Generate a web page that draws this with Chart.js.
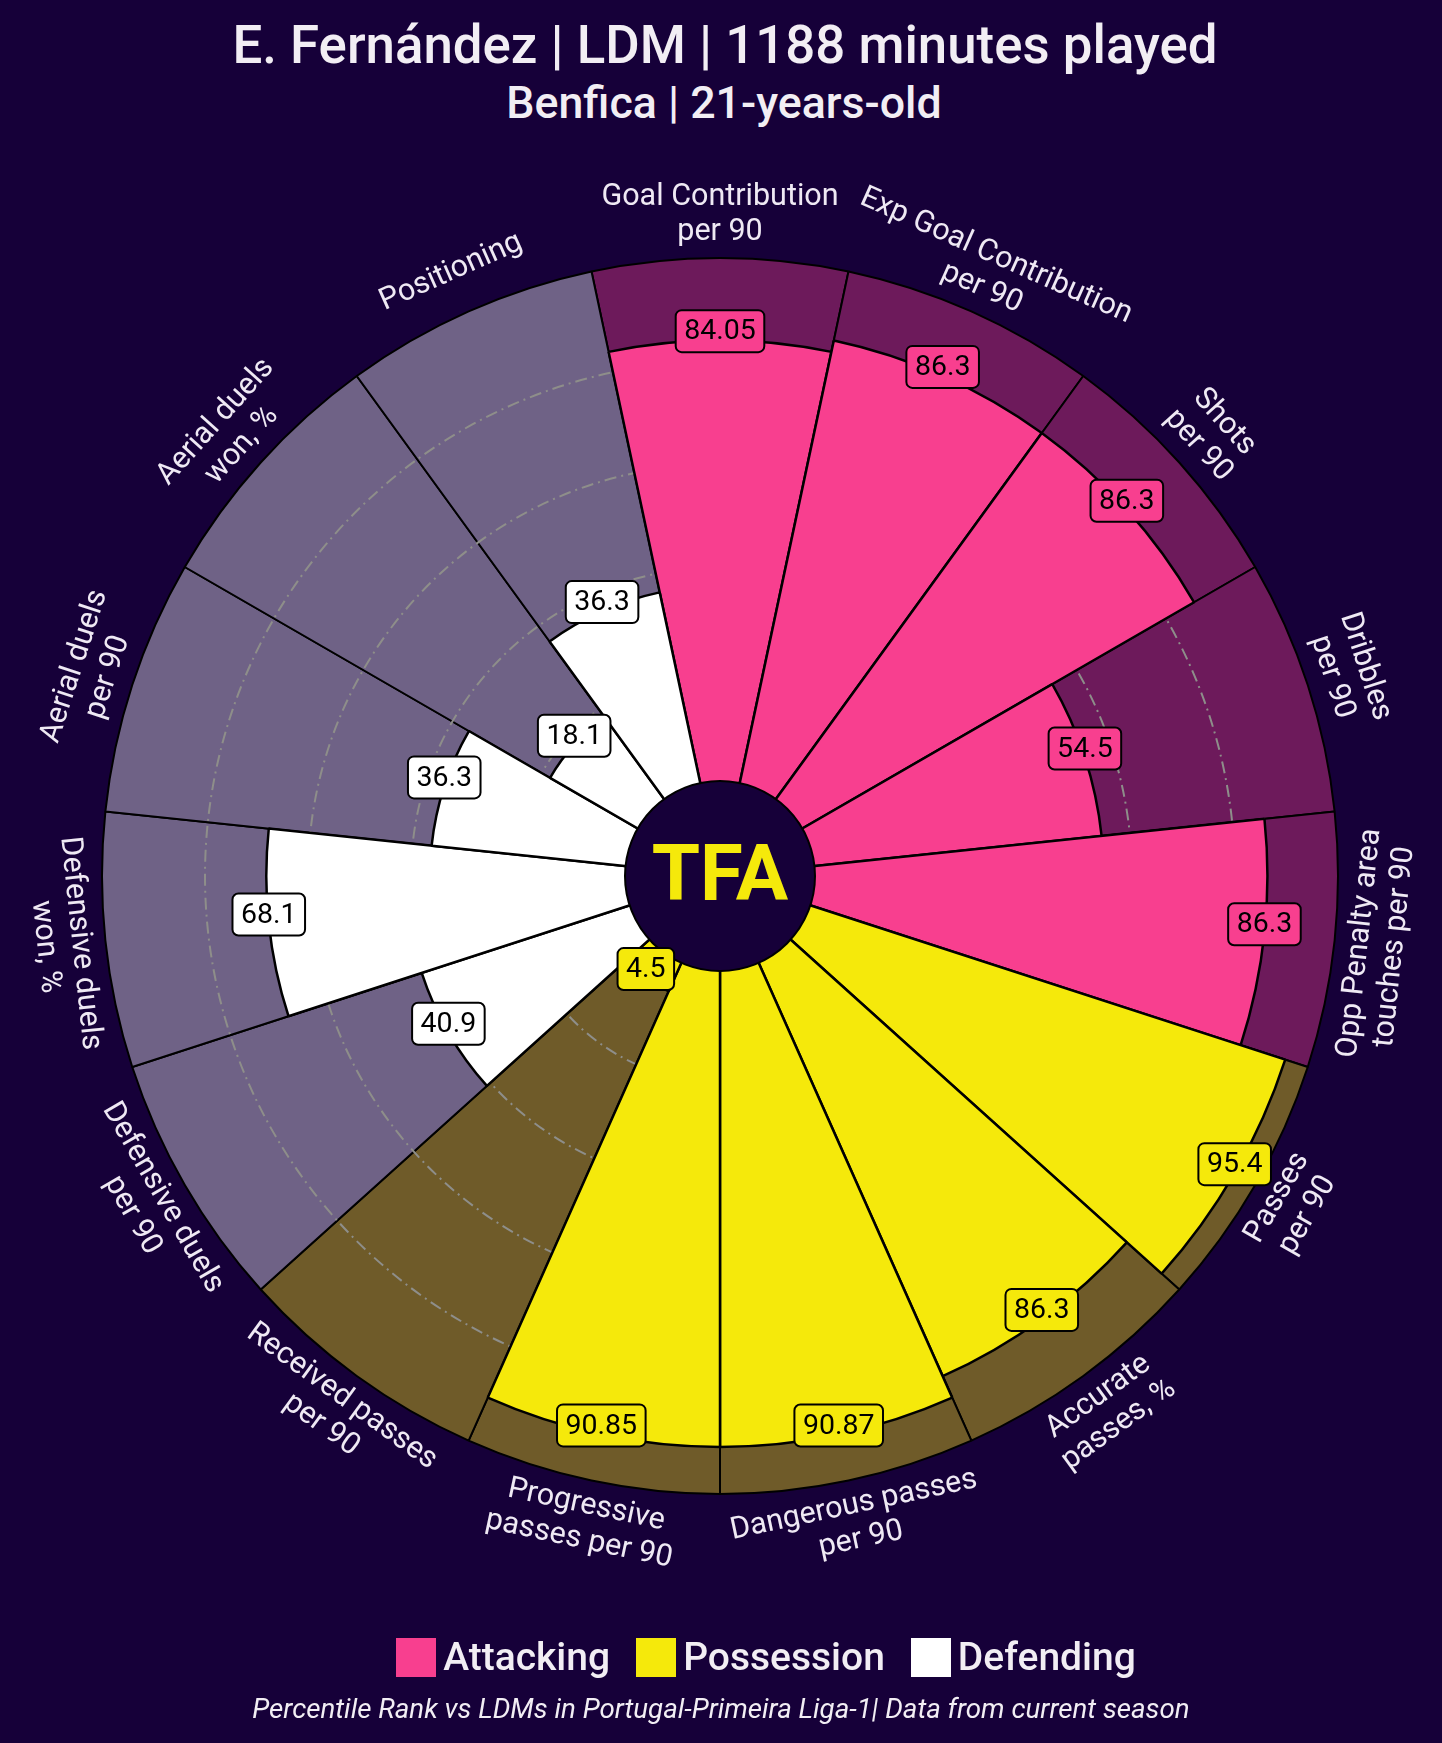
<!DOCTYPE html>
<html>
<head>
<meta charset="utf-8">
<script src="https://cdn.jsdelivr.net/npm/chart.js@4.4.1/dist/chart.umd.min.js"></script>
<style>
    body { margin: 0; background: #160039; width: 1442px; height: 1743px; overflow: hidden; position: relative; font-family: Roboto, sans-serif; color: #f2eef4; }
    .line { position: absolute; left: 0; width: 1442px; text-align: center; line-height: 1; white-space: nowrap; }
    #legend { position: absolute; left: 45px; width: 1442px; top: 1638px; display: flex; justify-content: center; align-items: center; font-size: 39px; font-weight: 500; line-height: 1; }
    #legend span.box { display: inline-block; width: 40px; height: 39px; margin-right: 7px; }
    #legend span.item { display: inline-flex; align-items: center; margin: 0 13px; }
    canvas { position: absolute; left: 0; top: 0; }
</style>
</head>
<body>
<div class="line" style="top:19px;left:4px;font-size:52.8px;font-weight:500">E. Fernández | LDM | 1188 minutes played</div>
<div class="line" style="top:81px;left:3px;font-size:44.7px;font-weight:500">Benfica | 21-years-old</div>
<canvas id="pizzaChart" width="1442" height="1743"></canvas>
<div id="legend"></div>
<div class="line" style="top:1695px;font-size:27.7px;font-style:italic">Percentile Rank vs LDMs in Portugal-Primeira Liga-1| Data from current season</div>

<script>
// 항목 이름 (줄바꿈은 배열로)
const categories = [
    ['Goal Contribution', 'per 90'],
    ['Exp Goal Contribution', 'per 90'],
    ['Shots', 'per 90'],
    ['Dribbles', 'per 90'],
    ['Opp Penalty area', 'touches per 90'],
    ['Passes', 'per 90'],
    ['Accurate', 'passes, %'],
    ['Dangerous passes', 'per 90'],
    ['Progressive', 'passes per 90'],
    ['Received passes', 'per 90'],
    ['Defensive duels', 'per 90'],
    ['Defensive duels', 'won, %'],
    ['Aerial duels', 'per 90'],
    ['Aerial duels', 'won, %'],
    ['Positioning'],
];
const values = [84.05, 86.3, 86.3, 54.5, 86.3, 95.4, 86.3, 90.87, 90.85, 4.5, 40.9, 68.1, 36.3, 18.1, 36.3];
const maxValues = [100, 100, 100, 100, 100, 100, 100, 100, 100, 100, 100, 100, 100, 100, 100];
const groups = ['Attacking', 'Attacking', 'Attacking', 'Attacking', 'Attacking',
    'Possession', 'Possession', 'Possession', 'Possession', 'Possession',
    'Defending', 'Defending', 'Defending', 'Defending', 'Defending'];
const groupNames = ['Attacking', 'Possession', 'Defending'];
const gridTicks = [20, 40, 60, 80];

const groupColor = { Attacking: '#f83f8f', Possession: '#f5e90b', Defending: '#ffffff' };
const groupBgColor = { Attacking: '#6d1a5b', Possession: '#6f5b29', Defending: '#6f6286' };
const bgColor = '#160039';

// 범례
const legendEl = document.getElementById('legend');
groupNames.forEach(g => {
    const item = document.createElement('span');
    item.className = 'item';
    item.innerHTML = `<span class="box" style="background:${groupColor[g]}"></span>${g}`;
    legendEl.appendChild(item);
});

const pizzaDecor = {
    id: 'pizzaDecor',
    beforeDatasetDraw(chart, args) {
        if (args.index !== 0) return;
        const r = chart.scales.r;
        const ctx = chart.ctx;
        ctx.save();
        ctx.strokeStyle = '#8e8e8a';
        ctx.lineWidth = 2;
        ctx.setLineDash([12, 5, 2, 5]);
        gridTicks.forEach(t => {
            ctx.beginPath();
            ctx.arc(r.xCenter, r.yCenter, r.getDistanceFromCenterForValue(t), 0, Math.PI * 2);
            ctx.stroke();
        });
        ctx.restore();
    },
    afterDatasetsDraw(chart) {
        const r = chart.scales.r;
        const ctx = chart.ctx;
        const cx = r.xCenter, cy = r.yCenter;
        const arcs = chart.getDatasetMeta(0).data;

        // 가운데 원 + 로고
        ctx.save();
        ctx.beginPath();
        ctx.arc(cx, cy, 95, 0, Math.PI * 2);
        ctx.fillStyle = bgColor;
        ctx.fill();
        ctx.lineWidth = 2;
        ctx.strokeStyle = '#000';
        ctx.stroke();
        ctx.fillStyle = '#f5e90b';
        ctx.font = '700 78px Roboto';
        ctx.textAlign = 'center';
        ctx.textBaseline = 'middle';
        ctx.fillText('TFA', cx, cy + 4);
        ctx.restore();

        // 값 박스
        ctx.save();
        ctx.font = '28.5px Roboto';
        ctx.textAlign = 'center';
        ctx.textBaseline = 'middle';
        values.forEach((v, i) => {
            const a = arcs[i];
            const mid = (a.startAngle + a.endAngle) / 2;
            const d = r.getDistanceFromCenterForValue(v);
            const x = cx + d * Math.cos(mid);
            const y = cy + d * Math.sin(mid) - 9;
            const txt = String(v);
            const w = ctx.measureText(txt).width + 17;
            const h = 42;
            ctx.beginPath();
            ctx.roundRect(x - w / 2, y - h / 2, w, h, 6);
            ctx.fillStyle = groupColor[groups[i]];
            ctx.fill();
            ctx.lineWidth = 2;
            ctx.strokeStyle = '#000';
            ctx.stroke();
            ctx.fillStyle = '#000';
            ctx.fillText(txt, x, y + 1);
        });
        ctx.restore();

        // 항목 라벨
        ctx.save();
        ctx.font = '30.5px Roboto';
        ctx.fillStyle = '#efe9f4';
        ctx.textAlign = 'center';
        ctx.textBaseline = 'middle';
        const labelR = r.drawingArea + 43;
        const lineH = 35;
        categories.forEach((lines, i) => {
            const a = arcs[i];
            const mid = (a.startAngle + a.endAngle) / 2;
            const x = cx + labelR * Math.cos(mid);
            const y = cy + labelR * Math.sin(mid);
            let rot = mid + Math.PI / 2;
            while (rot > Math.PI) rot -= Math.PI * 2;
            while (rot <= -Math.PI) rot += Math.PI * 2;
            if (rot > Math.PI / 2 + 1e-6) rot -= Math.PI;
            if (rot < -Math.PI / 2 - 1e-6) rot += Math.PI;
            ctx.save();
            ctx.translate(x, y);
            ctx.rotate(rot);
            const off = (lines.length - 1) * lineH / 2;
            lines.forEach((t, k) => ctx.fillText(t, 0, k * lineH - off));
            ctx.restore();
        });
        ctx.restore();
    }
};

const pizzaCtx = document.getElementById('pizzaChart').getContext('2d');
const pizzaChart = new Chart(pizzaCtx, {
    type: 'polarArea',
    data: {
        labels: categories,
        datasets: [{
            label: 'Percentile',
            data: values,
            backgroundColor: groups.map(g => groupColor[g]),
            borderColor: '#000',
            borderWidth: 2.5,
        }, {
            label: 'Max',
            data: maxValues,
            backgroundColor: groups.map(g => groupBgColor[g]),
            borderColor: '#000',
            borderWidth: 2,
        }]
    },
    options: {
        responsive: false,
        animation: false,
        layout: {
            padding: { left: 102, right: 103, top: 258, bottom: 248 }
        },
        plugins: {
            legend: { display: false },
            tooltip: { enabled: false },
        },
        scales: {
            r: {
                min: -20,
                max: 100,
                startAngle: -12,
                ticks: { display: false },
                grid: { display: false },
                angleLines: { display: false },
                pointLabels: { display: false },
            }
        }
    },
    plugins: [pizzaDecor],
});
</script>
</body>
</html>
